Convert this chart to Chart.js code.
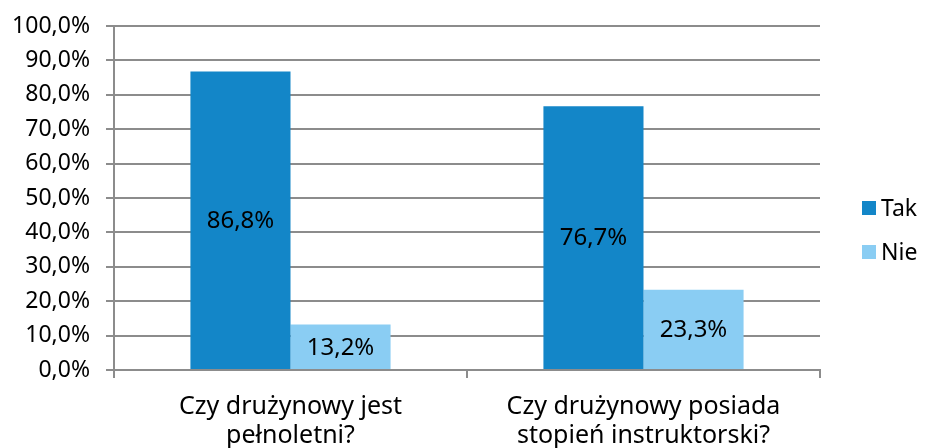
<!DOCTYPE html>
<html>
<head>
<meta charset="utf-8">
<script src="https://cdn.jsdelivr.net/npm/chart.js@4"></script>
<style>
  html, body { margin: 0; padding: 0; background: #fff; }
  #wrap { width: 928px; height: 448px; }
</style>
</head>
<body>
<div id="wrap"><canvas id="chart" width="928" height="448"></canvas></div>
<script>
const categories = [
  ["Czy drużynowy jest", "pełnoletni?"],
  ["Czy drużynowy posiada", "stopień instruktorski?"]
];
const seriesNames = ["Tak", "Nie"];
const takValues = [86.8, 76.7];
const nieValues = [13.2, 23.3];
const seriesColors = ["#1386c8", "#8acdf3"];

const FONT = "'Noto Sans', 'DejaVu Sans', sans-serif";

const fmt = (v, d) => v.toFixed(d).replace(".", ",") + "%";

// value labels centred inside each bar
const barLabels = {
  id: "barLabels",
  afterDatasetsDraw(chart) {
    const ctx = chart.ctx;
    ctx.save();
    ctx.font = "24px " + FONT;
    ctx.fillStyle = "#000";
    ctx.textAlign = "center";
    ctx.textBaseline = "middle";
    chart.data.datasets.forEach((ds, i) => {
      chart.getDatasetMeta(i).data.forEach((bar, j) => {
        const mid = (bar.y + bar.base) / 2;
        ctx.fillText(fmt(ds.data[j], 1), bar.x, mid + 1);
      });
    });
    ctx.restore();
  }
};

// simple legend on the right
const sideLegend = {
  id: "sideLegend",
  afterDraw(chart) {
    const ctx = chart.ctx;
    const area = chart.chartArea;
    const x = area.right + 42;
    const yMid = (area.top + area.bottom) / 2;
    ctx.save();
    ctx.font = "23px " + FONT;
    ctx.textBaseline = "middle";
    chart.data.datasets.forEach((ds, i) => {
      const y = yMid + 10 + i * 44;
      ctx.fillStyle = ds.backgroundColor;
      ctx.fillRect(x, y - 7, 14, 14);
      ctx.fillStyle = "#000";
      ctx.fillText(ds.label, x + 19, y + 1);
    });
    ctx.restore();
  }
};

new Chart(document.getElementById("chart"), {
  type: "bar",
  data: {
    labels: categories,
    datasets: [
      { label: seriesNames[0], data: takValues, backgroundColor: seriesColors[0] },
      { label: seriesNames[1], data: nieValues, backgroundColor: seriesColors[1] }
    ]
  },
  options: {
    responsive: false,
    animation: false,
    layout: { padding: { top: 26, right: 108, left: 0, bottom: 0 } },
    datasets: { bar: { categoryPercentage: 0.567, barPercentage: 1.0 } },
    plugins: { legend: { display: false }, tooltip: { enabled: false } },
    scales: {
      x: {
        grid: { offset: true, drawOnChartArea: false, color: "#8c8c8c", lineWidth: 2, tickLength: 8 },
        border: { color: "#8c8c8c", width: 2 },
        ticks: { color: "#000", font: { family: FONT, size: 25, lineHeight: 1.16 }, padding: 14, maxRotation: 0 },
        afterFit(scale) { scale.height = 78; scale.paddingLeft = 0; scale.paddingRight = 0; }
      },
      y: {
        min: 0, max: 100,
        ticks: { stepSize: 10, color: "#000", font: { family: FONT, size: 23 }, padding: 16,
          callback: (v) => fmt(v, 1) },
        grid: { color: "#8c8c8c", lineWidth: 2, tickLength: 8 },
        border: { color: "#8c8c8c", width: 2 },
        afterFit(scale) { scale.width = 114; scale.paddingTop = 0; scale.paddingBottom = 0; }
      }
    }
  },
  plugins: [barLabels, sideLegend]
});
</script>
</body>
</html>
